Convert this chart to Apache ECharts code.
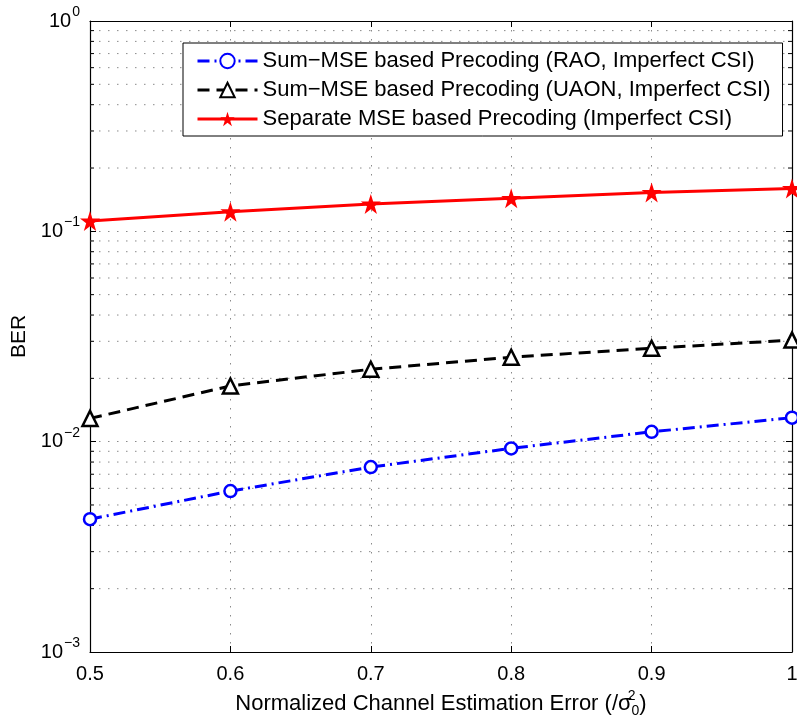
<!DOCTYPE html>
<html><head><meta charset="utf-8">
<script src="https://cdn.jsdelivr.net/npm/echarts@6/dist/echarts.min.js"></script>
<style>html,body{margin:0;padding:0;background:#fff}#c{width:797px;height:722px}</style>
</head><body><div id="c"></div>
<script>
const xValues = [0.5, 0.6, 0.7, 0.8, 0.9, 1.0];
const raoBER = [0.00428, 0.00582, 0.00757, 0.00929, 0.01114, 0.0130];
const uaonBER = [0.0129, 0.0184, 0.0221, 0.0252, 0.0278, 0.0304];
const sepBER = [0.112, 0.124, 0.135, 0.1435, 0.153, 0.160];
const seriesNames = [
  'Sum\u2212MSE based Precoding (RAO, Imperfect CSI)',
  'Sum\u2212MSE based Precoding (UAON, Imperfect CSI)',
  'Separate MSE based Precoding (Imperfect CSI)'
];
const decades = [-3, -2, -1];
const minorMultipliers = [2, 3, 4, 5, 6, 7, 8, 9];
const minorY = [];
decades.forEach(e => minorMultipliers.forEach(k => minorY.push(k * Math.pow(10, e))));

const FONT = "'Liberation Sans', Arial, Helvetica, sans-serif";
const starPath = 'path://M50,0 L61.2,34.5 L97.6,34.5 L68.2,55.9 L79.4,90.5 L50,69.1 L20.6,90.5 L31.8,55.9 L2.4,34.5 L38.8,34.5 Z';
const gridDash = [1.5, 7.5];
const gridColor = '#8a8a8a';

const chart = echarts.init(document.getElementById('c'), null, {renderer: 'canvas'});
const pairs = arr => xValues.map((x, i) => [x, arr[i]]);

function yLabel(v) {
  const e = Math.round(Math.log10(v));
  const s = e < 0 ? '\u2212' + (-e) : String(e);
  return '{b|10}{s|' + s + '}';
}

const option = {
  backgroundColor: '#fff',
  animation: false,
  textStyle: {fontFamily: FONT},
  grid: {left: 90, right: 5, top: 21, bottom: 70, containLabel: false, outerBoundsMode: 'none'},
  legend: {
    data: seriesNames,
    orient: 'vertical',
    left: 183, top: 43,
    itemWidth: 60, itemHeight: 18, itemGap: 7,
    padding: [7, 12, 6, 13],
    borderColor: '#000', borderWidth: 1, backgroundColor: '#fff', borderRadius: 0,
    textStyle: {fontSize: 22, lineHeight: 22, color: '#000', fontFamily: FONT},
    lineStyle: {width: 3},
    z: 10
  },
  xAxis: [{
    type: 'value', min: 0.5, max: 1, interval: 0.1,
    name: '{t|Normalized Channel Estimation Error (/\u03c3}{sup|2}{sub|0}{t|)}',
    nameLocation: 'middle', nameGap: 37,
    nameTextStyle: {
      rich: {
        t: {fontSize: 22, color: '#000', fontFamily: FONT},
        sup: {fontSize: 14, color: '#000', fontFamily: FONT, width: 0, padding: [0, 0, 16, 0]},
        sub: {fontSize: 14, color: '#000', fontFamily: FONT, padding: [14, 0, 0, 0]}
      }
    },
    axisLine: {show: true, onZero: false, lineStyle: {color: '#000', width: 1.2}},
    axisTick: {show: true, inside: true, length: 6, lineStyle: {color: '#000'}},
    axisLabel: {fontSize: 20, color: '#000', margin: 12, fontFamily: FONT,
      formatter: v => (Math.round(v * 10) / 10).toString()},
    splitLine: {show: true, lineStyle: {color: gridColor, type: gridDash, width: 1}}
  }, {
    type: 'value', min: 0.5, max: 1, interval: 0.1, position: 'top',
    axisLine: {show: true, onZero: false, lineStyle: {color: '#000', width: 1.2}},
    axisTick: {show: true, inside: true, length: 6, lineStyle: {color: '#000'}},
    axisLabel: {show: false}, splitLine: {show: false}
  }],
  yAxis: [{
    type: 'log', logBase: 10, min: 0.001, max: 1,
    name: 'BER', nameLocation: 'middle', nameGap: 58, nameRotate: 90,
    nameTextStyle: {fontSize: 21, color: '#000', fontFamily: FONT},
    axisLine: {show: true, onZero: false, lineStyle: {color: '#000', width: 1.2}},
    axisTick: {show: true, inside: true, length: 6, lineStyle: {color: '#000'}},
    axisLabel: {
      formatter: yLabel, margin: 10,
      rich: {
        b: {fontSize: 20, color: '#000', fontFamily: FONT},
        s: {fontSize: 14, color: '#000', fontFamily: FONT, padding: [0, 0, 18, 1]}
      }
    },
    splitLine: {show: true, lineStyle: {color: gridColor, type: gridDash, width: 1}}
  }, {
    type: 'log', logBase: 10, min: 0.001, max: 1, position: 'right',
    axisLine: {show: true, onZero: false, lineStyle: {color: '#000', width: 1.2}},
    axisTick: {show: true, inside: true, length: 6, lineStyle: {color: '#000'}},
    axisLabel: {show: false}, splitLine: {show: false}
  }],
  series: [
    {
      type: 'custom', name: 'minorGrid', silent: true, z: 1,
      xAxisIndex: 0, yAxisIndex: 0,
      data: minorY.map(v => [0.5, v]),
      renderItem: function (params, api) {
        const y = api.coord([api.value(0), api.value(1)])[1];
        const cs = params.coordSys;
        return {
          type: 'group',
          children: [
            {type: 'line', shape: {x1: cs.x, y1: y, x2: cs.x + cs.width, y2: y},
              style: {stroke: gridColor, lineDash: gridDash, lineWidth: 1}},
            {type: 'line', shape: {x1: cs.x, y1: y, x2: cs.x + 4, y2: y},
              style: {stroke: '#000', lineWidth: 1}},
            {type: 'line', shape: {x1: cs.x + cs.width - 4, y1: y, x2: cs.x + cs.width, y2: y},
              style: {stroke: '#000', lineWidth: 1}}
          ]
        };
      }
    },
    {
      type: 'line', name: seriesNames[0], data: pairs(raoBER), z: 5,
      symbol: 'circle', symbolSize: 12,
      lineStyle: {color: '#0000ff', width: 3, type: [12, 5, 2, 5]},
      itemStyle: {color: '#fff', borderColor: '#0000ff', borderWidth: 2.5}
    },
    {
      type: 'line', name: seriesNames[1], data: pairs(uaonBER), z: 5,
      symbol: 'triangle', symbolSize: 15,
      lineStyle: {color: '#000', width: 3, type: [12, 7]},
      itemStyle: {color: '#fff', borderColor: '#000', borderWidth: 2.5}
    },
    {
      type: 'line', name: seriesNames[2], data: pairs(sepBER), z: 5,
      symbol: starPath, symbolSize: 20,
      lineStyle: {color: '#ff0000', width: 3, type: 'solid'},
      itemStyle: {color: '#ff0000', borderColor: '#ff0000', borderWidth: 0}
    }
  ]
};
chart.setOption(option);
</script>
</body></html>
